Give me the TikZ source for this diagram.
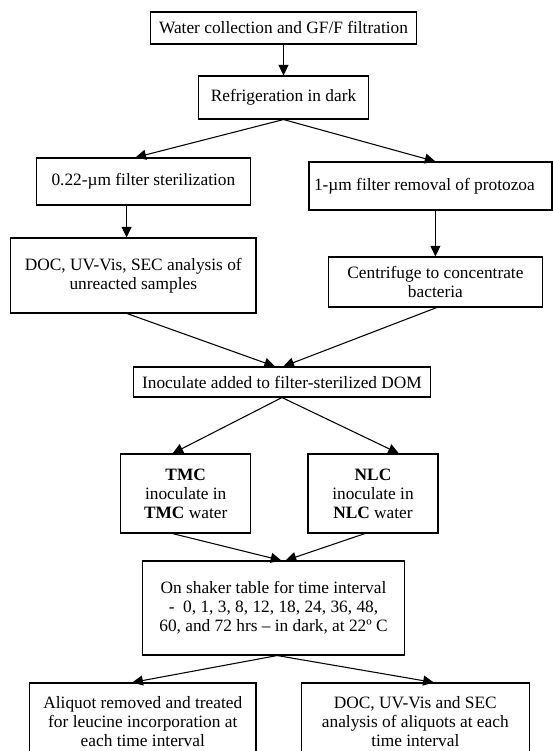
\documentclass[tikz,border=0pt]{standalone}
\usepackage{fontspec}
\setmainfont{Liberation Serif}
\usetikzlibrary{arrows.meta}

\begin{document}
\begin{tikzpicture}[x=0.75pt,y=-0.75pt,>={Triangle[length=8pt,width=7.5pt]},
  line width=0.8pt,
  box/.style={draw,rectangle,align=center,inner sep=0pt,
    font=\fontsize{13}{14.2}\selectfont}]

                \useasboundingbox (0,0) rectangle (553,751);
                \clip (0,0) rectangle (553,751);

                \node[box,minimum width=200pt,minimum height=24pt] (water) at (283.5,28) {Water collection and GF/F filtration};

                \node[box,minimum width=127pt,minimum height=32.25pt] (refrig) at (283.5,97.5) {Refrigeration in dark};

                \node[box,minimum width=161pt,minimum height=35.25pt] (filt) at (143.4,181.5) {0.22-µm filter sterilization};

                \node[box,align=flush left,text width=174.75pt,inner xsep=3.75pt,minimum height=36pt] (prot) at (430.5,186) {1-µm filter removal of protozoa};

                \node[box,minimum width=184pt,minimum height=56.25pt] (doc) at (133.3,275.5) {DOC, UV-Vis, SEC analysis of\\unreacted samples};

                \node[box,minimum width=161pt,minimum height=37.5pt] (cent) at (435.4,282) {Centrifuge to concentrate\\bacteria};

                \node[box,minimum width=223pt,minimum height=22.5pt] (inoc) at (282,382) {Inoculate added to filter-sterilized DOM};

                \node[box,minimum width=97.5pt,minimum height=59.25pt] (tmc) at (185.7,493.5) {\textbf{TMC}\\inoculate in\\\textbf{TMC} water};

                \node[box,minimum width=97.5pt,minimum height=59.25pt] (nlc) at (373,493.5) {\textbf{NLC}\\inoculate in\\\textbf{NLC} water};

                \node[box,minimum width=196pt,minimum height=70.5pt] (shaker) at (273.5,608) {On shaker table for time interval\\-\ \ 0, 1, 3, 8, 12, 18, 24, 36, 48,\\60, and 72 hrs – in dark, at 22º C};

                \node[box,minimum width=169.8pt,minimum height=57.75pt] (aliq) at (142.8,721.5) {Aliquot removed and treated\\for leucine incorporation at\\each time interval};

                \node[box,minimum width=170.6pt,minimum height=57.75pt] (doctwo) at (415.3,721.5) {DOC, UV-Vis and SEC\\analysis of aliquots at each\\time interval};

                

                \draw[->] (water) -- (refrig);
                \draw[->] (refrig.south) -- ([xshift=-6pt]filt.north);
                \draw[->] (refrig.south) -- (cent.north |- prot.north);
                \draw[->] ([xshift=-12.6pt]filt.south) -- ([xshift=-12.6pt]filt.south |- doc.north);
                \draw[->] (cent.north |- prot.south) -- (cent.north);
                \draw[->] ([xshift=-4.7pt]doc.south) -- ([xshift=-5.25pt]inoc.north);
                \draw[->] ([xshift=1pt]cent.south) -- ([xshift=1pt]inoc.north);
                \draw[->] (inoc.south) -- ([xshift=-9.9pt]tmc.north);
                \draw[->] (inoc.south) -- ([xshift=19.4pt]nlc.north);
                \draw[->] ([xshift=-9.9pt]tmc.south) -- ([xshift=5.9pt]shaker.north);
                \draw[->] ([xshift=-6pt]nlc.south) -- ([xshift=9.1pt]shaker.north);
                \draw[->] ([xshift=2.8pt]shaker.south) -- ([xshift=-7.9pt]aliq.north);
                \draw[->] ([xshift=2.8pt]shaker.south) -- ([xshift=13.9pt]doctwo.north);

            \end{tikzpicture}
\end{document}
